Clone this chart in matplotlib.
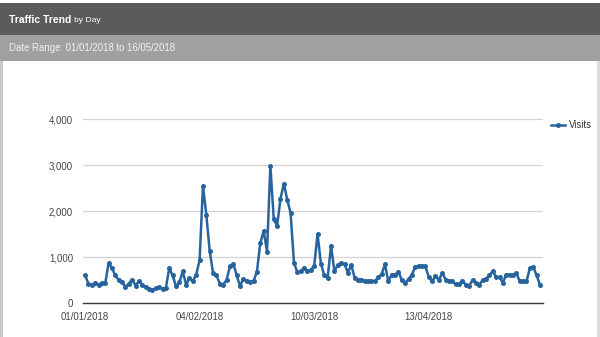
import matplotlib
matplotlib.use("Agg")
import matplotlib.pyplot as plt
import matplotlib.dates as mdates
from matplotlib import font_manager
from matplotlib.patches import Rectangle
import pandas as pd

# Daily visits, 01/01/2018 .. 16/05/2018
start_date = "2018-01-01"
end_date = "2018-05-16"
visits = [
    610, 420, 390, 440, 400, 440, 430, 870, 760, 600,
    500, 450, 350, 420, 510, 380, 480, 400, 340, 300,
    280, 330, 350, 310, 330, 760, 600, 360, 450, 690,
    400, 540, 480, 620, 930, 2550, 1920, 1130, 650, 600,
    420, 400, 500, 800, 860, 600, 370, 530, 470, 460,
    480, 680, 1300, 1570, 1120, 2990, 1830, 1680, 2270, 2600,
    2250, 1960, 880, 670, 690, 770, 690, 720, 810, 1500,
    860, 600, 550, 1250, 690, 830, 870, 850, 660, 830,
    550, 510, 510, 490, 480, 480, 470, 560, 630, 840,
    470, 620, 620, 680, 500, 440, 520, 620, 790, 810,
    810, 800, 560, 470, 590, 500, 660, 510, 470, 470,
    410, 410, 490, 400, 380, 500, 430, 400, 500, 530,
    600, 700, 560, 560, 440, 620, 620, 600, 650, 470,
    480, 470, 760, 790, 600, 400,
]
x_tick_dates = ["2018-01-01", "2018-02-04", "2018-03-10", "2018-04-13"]
y_ticks = [0, 1000, 2000, 3000, 4000]
series_name = "Visits"
title_main = "Traffic Trend"
title_sub = "by Day"
date_range_text = "Date Range: 01/01/2018 to 16/05/2018"

# Pick a condensed face when one is available
available = {f.name for f in font_manager.fontManager.ttflist}
if "Liberation Sans Narrow" in available:
    FAMILY = "Liberation Sans Narrow"
    SCALE = 1.0
else:
    FAMILY = "Liberation Sans"
    SCALE = 0.9
plt.rcParams["font.family"] = [FAMILY, "DejaVu Sans"]

W, H = 600, 337
fig = plt.figure(figsize=(W / 100, H / 100), dpi=100)
fig.patch.set_facecolor("white")


def fx(px):
    return px / W


def fy(py):
    return 1 - py / H


# Header bars and panel edges
fig.add_artist(Rectangle((0, fy(35)), 1, fy(3) - fy(35), transform=fig.transFigure,
                         facecolor="#5b5b5b", edgecolor="none", zorder=0))
fig.add_artist(Rectangle((0, fy(61)), 1, fy(35) - fy(61), transform=fig.transFigure,
                         facecolor="#a0a0a0", edgecolor="none", zorder=0))
fig.add_artist(Rectangle((0, 0), fx(2.5), fy(61), transform=fig.transFigure,
                         facecolor="#c8c8c8", edgecolor="none", zorder=0))
fig.add_artist(Rectangle((fx(597), 0), fx(3), fy(61), transform=fig.transFigure,
                         facecolor="#dcdcdc", edgecolor="none", zorder=0))

t1 = fig.text(fx(9), fy(20), title_main, color="white", fontsize=8.3 * SCALE,
              fontweight="bold", va="center", ha="left")
fig.canvas.draw()
bb = t1.get_window_extent()
fig.text(bb.x1 / W + fx(2.5), fy(20.5), title_sub, color="white",
         fontsize=6.8 * SCALE, va="center", ha="left")
fig.text(fx(9), fy(48), date_range_text, color="#f2f2f2", fontsize=7.7 * SCALE,
         va="center", ha="left")

# Plot area
y0_px, y_top_px = 303, 117.5
ax = fig.add_axes([fx(83), fy(y0_px), fx(543) - fx(83), fy(y_top_px) - fy(y0_px)])
dates = pd.date_range(start_date, end_date, freq="D")
line_color = "#27649e"
ax.plot(dates, visits, color=line_color, lw=1.8, marker="o", markersize=3.6,
        markeredgewidth=0, label=series_name, zorder=3)

x0 = dates[0] - pd.Timedelta(days=0.6)
x1 = dates[-1] + pd.Timedelta(days=0.9)
ax.set_xlim(x0, x1)
ax.set_ylim(0, 4040)

ax.set_yticks(y_ticks)
ax.set_yticklabels([f"{v:,}" for v in y_ticks])
ax.set_xticks(pd.to_datetime(x_tick_dates))
ax.xaxis.set_major_formatter(mdates.DateFormatter("%d/%m/%Y"))

ax.grid(axis="y", color="#d4d4d4", lw=0.9)
ax.set_axisbelow(True)
for s in ("left", "right", "top"):
    ax.spines[s].set_visible(False)
ax.spines["bottom"].set_color("#3a3a3a")
ax.spines["bottom"].set_linewidth(1.0)
ax.tick_params(axis="both", length=0, labelsize=7.7 * SCALE, colors="#444444")
ax.tick_params(axis="y", pad=7.2)
ax.tick_params(axis="x", pad=6.5)

fig.legend(loc="center left", bbox_to_anchor=(fx(551), fy(125)), frameon=False,
           fontsize=7.7 * SCALE, handlelength=1.45, handletextpad=0.45,
           borderpad=0, borderaxespad=0, labelcolor="#333333")

fig.savefig("out.png", dpi=100)
